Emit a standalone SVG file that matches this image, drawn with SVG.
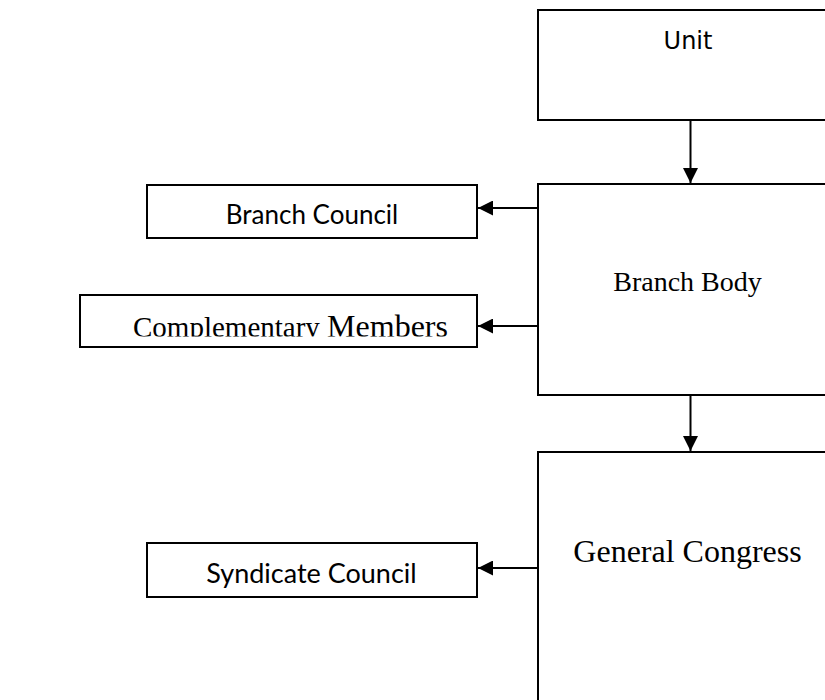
<svg xmlns="http://www.w3.org/2000/svg" width="825" height="700" viewBox="0 0 825 700">
  <style>
    .box { fill: #ffffff; stroke: #000000; stroke-width: 2; }
    .conn { stroke: #000000; stroke-width: 2; fill: none; marker-end: url(#arrow); }
    .sans { font-family: "DejaVu Sans", sans-serif; fill: #000; }
    .cal { font-family: "Lato", "Open Sans", sans-serif; fill: #000; }
    .serif { font-family: "Liberation Serif", "Times New Roman", serif; fill: #000; }
  </style>
  <defs>
    <marker id="arrow" viewBox="0 0 15 15" refX="15" refY="7.5" markerWidth="15" markerHeight="15" markerUnits="userSpaceOnUse" orient="auto">
      <path d="M0,0 L15,7.5 L0,15 z" fill="#000"/>
    </marker>
    <clipPath id="cmClip">
      <rect x="80" y="296" width="397" height="40.5"/>
    </clipPath>
  </defs>
  <rect width="825" height="700" fill="#ffffff"/>

  <g id="unit">
    <rect class="box" x="538" y="10" width="320" height="110"/>
    <text class="sans" x="688" y="49" font-size="24" text-anchor="middle">Unit</text>
  </g>

  <g id="branch-body">
    <rect class="box" x="538" y="184" width="320" height="211"/>
    <text class="serif" x="687.5" y="291" font-size="28" text-anchor="middle">Branch Body</text>
  </g>

  <g id="general-congress">
    <rect class="box" x="538" y="452" width="320" height="280"/>
    <text class="serif" x="687.5" y="562" font-size="32" text-anchor="middle">General Congress</text>
  </g>

  <g id="branch-council">
    <rect class="box" x="147" y="185" width="330" height="53"/>
    <text class="cal" x="312" y="224" font-size="26" text-anchor="middle">Branch Council</text>
  </g>

  <g id="complementary-members">
    <rect class="box" x="80" y="295" width="397" height="52"/>
    <text class="serif" x="133" y="337" clip-path="url(#cmClip)"><tspan font-size="29">Complementary </tspan><tspan font-size="32">Members</tspan></text>
  </g>

  <g id="syndicate-council">
    <rect class="box" x="147" y="543" width="330" height="54"/>
    <text class="cal" x="311.5" y="583" font-size="27" text-anchor="middle">Syndicate Council</text>
  </g>

  <g id="connectors">
    <line class="conn" x1="690.5" y1="120" x2="690.5" y2="183"/>
    <line class="conn" x1="690.5" y1="395" x2="690.5" y2="451"/>
    <line class="conn" x1="538" y1="208" x2="478" y2="208"/>
    <line class="conn" x1="538" y1="326" x2="478" y2="326"/>
    <line class="conn" x1="538" y1="568" x2="478" y2="568"/>
  </g>
</svg>
